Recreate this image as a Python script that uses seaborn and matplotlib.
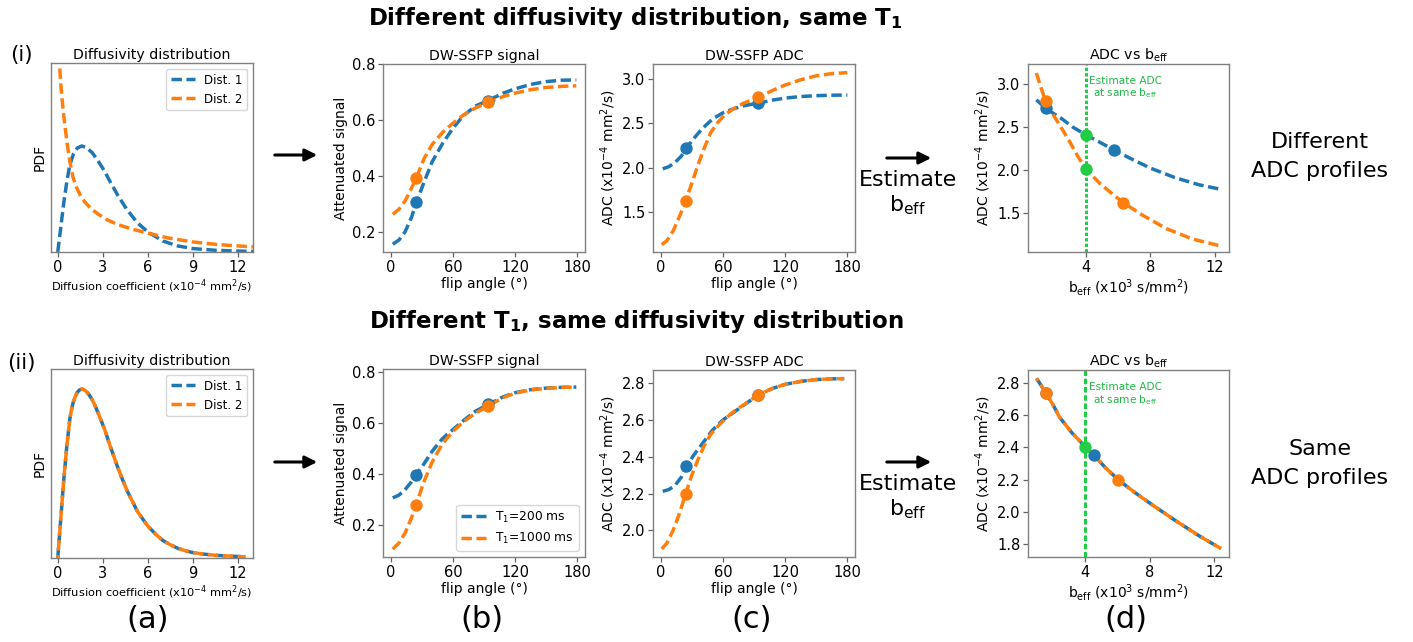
import matplotlib
matplotlib.use("Agg")
import matplotlib.pyplot as plt
import seaborn as sns
from matplotlib.patches import FancyArrowPatch

# ---------------- data ----------------
# Row (i) panel (a): diffusivity distributions
dc_dist1_i = [0, 0.2, 0.4, 0.6, 0.8, 1.05, 1.3, 1.6, 1.9, 2.3, 2.7, 3.1, 3.5, 4.0, 4.6, 5.3, 6.0, 7.0, 8.0, 9.0, 10.5, 12.0, 13.0]
pdf_dist1_i = [0, 0.13, 0.26, 0.37, 0.46, 0.52, 0.55, 0.561, 0.553, 0.525, 0.48, 0.43, 0.37, 0.30, 0.225, 0.155, 0.106, 0.058, 0.032, 0.018, 0.009, 0.005, 0.003]
dc_dist2_i = [0.1, 0.15, 0.22, 0.3, 0.4, 0.52, 0.65, 0.8, 1.0, 1.2, 1.5, 1.8, 2.2, 2.7, 3.3, 4.0, 5.0, 6.0, 7.3, 9.0, 10.7, 13.0]
pdf_dist2_i = [1.05, 0.95, 0.87, 0.80, 0.72, 0.64, 0.56, 0.48, 0.40, 0.35, 0.30, 0.265, 0.23, 0.20, 0.17, 0.145, 0.12, 0.10, 0.075, 0.053, 0.039, 0.027]

# Row (ii) panel (a): identical distributions
dc_ii = [0, 0.1, 0.2, 0.3, 0.4, 0.5, 0.6, 0.7, 0.8, 0.92, 1.05, 1.18, 1.3, 1.45, 1.6, 1.75, 1.9, 2.1, 2.3, 2.5, 2.7, 2.9, 3.1, 3.3, 3.5, 3.75, 4.0, 4.3, 4.6, 5.0, 5.3, 5.65, 6.0, 6.5, 7.0, 7.5, 8.0, 8.5, 9.0, 9.7, 10.5, 11.2, 12.0, 12.5]
pdf_ii = [0, 0.065, 0.13, 0.195, 0.26, 0.315, 0.37, 0.415, 0.46, 0.495, 0.52, 0.538, 0.55, 0.558, 0.561, 0.559, 0.553, 0.541, 0.525, 0.504, 0.48, 0.455, 0.43, 0.40, 0.37, 0.335, 0.30, 0.262, 0.225, 0.185, 0.155, 0.13, 0.106, 0.08, 0.058, 0.044, 0.032, 0.024, 0.018, 0.013, 0.009, 0.007, 0.005, 0.004]

# flip angles (degrees)
fa = [2, 8, 14, 20, 25, 32, 40, 50, 60, 70, 82, 94, 108, 120, 135, 150, 165, 179]
fa_adc_i_orange = [1, 6, 12, 18, 24, 30, 36, 42, 48, 55, 62, 70, 80, 94, 108, 120, 135, 150, 165, 180]
fa_adc_i_blue = [2, 8, 14, 20, 25, 32, 40, 50, 60, 70, 80, 94, 108, 120, 135, 150, 165, 180]
fa_adc_ii_orange = [1, 6, 12, 18, 24, 30, 36, 42, 48, 55, 62, 70, 82, 94, 108, 120, 135, 150, 165, 177]
fa_adc_ii_blue = [2, 8, 14, 20, 25, 32, 40, 50, 60, 70, 82, 94, 108, 120, 135, 150, 165, 177]

# Row (i) panel (b): DW-SSFP signal
sig_i_dist1 = [0.155, 0.170, 0.200, 0.250, 0.307, 0.375, 0.450, 0.515, 0.570, 0.615, 0.650, 0.669, 0.695, 0.711, 0.727, 0.737, 0.742, 0.743]
sig_i_dist2 = [0.262, 0.280, 0.310, 0.355, 0.395, 0.460, 0.512, 0.555, 0.588, 0.617, 0.643, 0.663, 0.683, 0.696, 0.708, 0.716, 0.720, 0.722]
# Row (i) panel (c): DW-SSFP ADC (x1e-4 mm2/s)
adc_i_dist1 = [1.985, 2.01, 2.06, 2.13, 2.227, 2.33, 2.44, 2.55, 2.62, 2.665, 2.70, 2.73, 2.765, 2.787, 2.805, 2.815, 2.82, 2.822]
adc_i_dist2 = [1.125, 1.17, 1.28, 1.44, 1.62, 1.82, 2.03, 2.22, 2.39, 2.51, 2.60, 2.665, 2.73, 2.795, 2.875, 2.935, 2.995, 3.04, 3.065, 3.076]
# Row (i) panel (d): ADC vs b_eff (x1e3 s/mm2)
beff_i_dist1 = [0.94, 1.52, 2.0, 2.5, 3.2, 4.0, 4.8, 5.74, 6.9, 8.0, 9.5, 11.0, 12.2]
adcb_i_dist1 = [2.82, 2.722, 2.66, 2.60, 2.50, 2.41, 2.33, 2.232, 2.12, 2.02, 1.91, 1.825, 1.778]
beff_i_dist2 = [0.94, 1.2, 1.52, 1.9, 2.4, 3.0, 3.5, 4.0, 4.87, 5.5, 6.31, 7.5, 9.0, 10.6, 12.2]
adcb_i_dist2 = [3.133, 2.98, 2.80, 2.67, 2.52, 2.33, 2.16, 2.01, 1.84, 1.74, 1.617, 1.47, 1.31, 1.19, 1.115]

# Row (ii) panel (b)
sig_ii_t200 = [0.307, 0.318, 0.340, 0.370, 0.400, 0.440, 0.490, 0.540, 0.575, 0.610, 0.648, 0.673, 0.703, 0.720, 0.732, 0.738, 0.741, 0.742]
sig_ii_t1000 = [0.106, 0.130, 0.170, 0.228, 0.285, 0.370, 0.448, 0.520, 0.568, 0.605, 0.640, 0.668, 0.700, 0.718, 0.731, 0.737, 0.741, 0.742]
# Row (ii) panel (c)
adc_ii_t200 = [2.212, 2.222, 2.245, 2.29, 2.348, 2.41, 2.47, 2.545, 2.60, 2.64, 2.688, 2.737, 2.772, 2.794, 2.81, 2.82, 2.824, 2.825]
adc_ii_t1000 = [1.899, 1.93, 2.00, 2.09, 2.197, 2.30, 2.385, 2.46, 2.52, 2.565, 2.605, 2.645, 2.69, 2.737, 2.772, 2.794, 2.81, 2.82, 2.824, 2.825]
# Row (ii) panel (d)
beff_ii = [1.0, 1.57, 2.0, 2.43, 3.2, 4.0, 4.54, 5.3, 6.06, 7.0, 8.0, 9.65, 11.1, 12.4]
adcb_ii = [2.831, 2.742, 2.67, 2.588, 2.49, 2.406, 2.352, 2.27, 2.198, 2.125, 2.053, 1.94, 1.846, 1.77]

# acquired points (dots)
pt_fa_i = [24.5, 94]
pt_fa_adc = [24.5, 93.6]
pt_fa_ii = [24.2, 94]
pts_i_sig_d1 = [0.307, 0.668]
pts_i_sig_d2 = [0.393, 0.663]
pts_i_adc_d1 = [2.227, 2.73]
pts_i_adc_d2 = [1.621, 2.795]
pts_i_beff_d1 = [1.52, 5.74]
pts_i_adcb_d1 = [2.722, 2.232]
pts_i_beff_d2 = [1.52, 6.31]
pts_i_adcb_d2 = [2.80, 1.617]
pts_i_green = [2.41, 2.008]

pts_ii_sig_t200 = [0.397, 0.674]
pts_ii_sig_t1000 = [0.281, 0.668]
pts_ii_adc_t200 = [2.348, 2.737]
pts_ii_adc_t1000 = [2.197, 2.737]
pts_ii_beff_t200 = [1.57, 4.54]
pts_ii_adcb_t200 = [2.742, 2.352]
pts_ii_beff_t1000 = [1.57, 6.06]
pts_ii_adcb_t1000 = [2.742, 2.198]
pts_ii_green = [2.406]

beff_same = 4.0
panel_letters = ["(a)", "(b)", "(c)", "(d)"]

# ---------------- style ----------------
sns.set_theme(style="ticks", rc={
    "axes.edgecolor": "#808080", "axes.linewidth": 1.0,
    "xtick.major.size": 3.5, "ytick.major.size": 3.5,
    "xtick.major.width": 0.9, "ytick.major.width": 0.9,
    "xtick.color": "#606060", "ytick.color": "#606060",
    "xtick.labelcolor": "black", "ytick.labelcolor": "black",
    "text.color": "black", "axes.labelcolor": "black",
    "mathtext.fontset": "dejavusans",
})
plt.rcParams["font.family"] = ["DejaVu Sans"]

BLUE, ORANGE = "#1f77b4", "#ff7f0e"
GREEN, GREEN_TXT = "#22cc44", "#22b845"
W, H = 1413, 642
TICK, LAB, TIT = 10.5, 10, 10.2
LW = 2.5
DASH = (0, (3.0, 1.3))
OFFSET = (2.15, (3.0, 1.3))


def rect(l, r, t, b):
    return [l / W, 1 - b / H, (r - l) / W, (b - t) / H]


fig = plt.figure(figsize=(W / 100, H / 100), dpi=100)


def line(ax, x, y, color, label=None, ls=DASH):
    kw = dict(x=x, y=y, color=color, lw=LW, linestyle=ls, ax=ax,
              sort=False, estimator=None)
    if label is not None:
        kw["label"] = label
    sns.lineplot(**kw)


def dots(ax, x, y, color, z=3):
    sns.scatterplot(x=x, y=y, color=color, s=80, linewidth=0, ax=ax, zorder=z, legend=False)


def style(ax, title, xlabel, ylabel, xlim, ylim, xticks, yticks, xl_size=LAB):
    ax.set_title(title, fontsize=TIT, pad=3)
    ax.set_xlabel(xlabel, fontsize=xl_size, labelpad=2)
    ax.set_ylabel(ylabel, fontsize=LAB, labelpad=3)
    ax.set_xlim(*xlim)
    ax.set_ylim(*ylim)
    ax.set_xticks(xticks)
    ax.set_yticks(yticks)
    ax.tick_params(labelsize=TICK, pad=2)


def legend(ax, **kw):
    leg = ax.legend(frameon=True, **kw)
    for ln in leg.get_lines():
        ln.set_linestyle(DASH)
    return leg


dc_label = r"Diffusion coefficient (x10$^{-4}$ mm$^2$/s)"
adc_label = r"ADC (x10$^{-4}$ mm$^2$/s)"
fa_label = "flip angle (°)"
beff_label = r"b$_{\mathrm{eff}}$ (x10$^3$ s/mm$^2$)"

# ---------------- row (i) ----------------
ax = fig.add_axes(rect(51, 253, 63, 252))
line(ax, dc_dist1_i, pdf_dist1_i, BLUE, "Dist. 1")
line(ax, dc_dist2_i, pdf_dist2_i, ORANGE, "Dist. 2")
style(ax, "Diffusivity distribution", dc_label, "PDF", (-0.45, 13.0), (0, 1.0), [0, 3, 6, 9, 12], [], xl_size=8.2)
legend(ax, loc="upper right", fontsize=8.5)

ax = fig.add_axes(rect(383, 585, 64, 252))
line(ax, fa, sig_i_dist1, BLUE)
line(ax, fa, sig_i_dist2, ORANGE)
dots(ax, pt_fa_i, pts_i_sig_d1, BLUE)
dots(ax, pt_fa_i, pts_i_sig_d2, ORANGE, 4)
style(ax, "DW-SSFP signal", fa_label, "Attenuated signal", (-7.4, 187.4), (0.127, 0.80), [0, 60, 120, 180], [0.2, 0.4, 0.6, 0.8])

ax = fig.add_axes(rect(653, 855, 64, 252))
line(ax, fa_adc_i_blue, adc_i_dist1, BLUE)
line(ax, fa_adc_i_orange, adc_i_dist2, ORANGE)
dots(ax, pt_fa_adc, pts_i_adc_d1, BLUE)
dots(ax, pt_fa_adc, pts_i_adc_d2, ORANGE, 4)
style(ax, "DW-SSFP ADC", fa_label, adc_label, (-7.4, 187.4), (1.042, 3.174), [0, 60, 120, 180], [1.5, 2.0, 2.5, 3.0])

ax = fig.add_axes(rect(1028, 1229, 64, 252))
line(ax, beff_i_dist1, adcb_i_dist1, BLUE)
line(ax, beff_i_dist2, adcb_i_dist2, ORANGE)
ax.axvline(beff_same, color=GREEN, lw=2.2, linestyle=(0, (1.1, 0.7)), zorder=2.5)
dots(ax, pts_i_beff_d1, pts_i_adcb_d1, BLUE)
dots(ax, pts_i_beff_d2, pts_i_adcb_d2, ORANGE, 4)
dots(ax, [beff_same, beff_same], pts_i_green, GREEN, 5)
ax.text(6.46, 3.035, "Estimate ADC", color=GREEN_TXT, fontsize=7.6, ha="center", va="center")
ax.text(6.46, 2.898, r"at same b$_{\mathrm{eff}}$", color=GREEN_TXT, fontsize=7.6, ha="center", va="center")
style(ax, r"ADC vs b$_{\mathrm{eff}}$", beff_label, adc_label, (0.425, 12.86), (1.038, 3.239), [4, 8, 12], [1.5, 2.0, 2.5, 3.0])

# ---------------- row (ii) ----------------
ax = fig.add_axes(rect(51, 253, 369, 558))
line(ax, dc_ii, pdf_ii, BLUE, "Dist. 1")
line(ax, dc_ii, pdf_ii, ORANGE, "Dist. 2", ls=OFFSET)
style(ax, "Diffusivity distribution", dc_label, "PDF", (-0.45, 13.0), (0, 0.6275), [0, 3, 6, 9, 12], [], xl_size=8.2)
legend(ax, loc="upper right", fontsize=8.5)

ax = fig.add_axes(rect(383, 585, 369, 557))
line(ax, fa, sig_ii_t200, BLUE, r"T$_1$=200 ms")
line(ax, fa, sig_ii_t1000, ORANGE, r"T$_1$=1000 ms")
dots(ax, pt_fa_ii, pts_ii_sig_t200, BLUE)
dots(ax, pt_fa_ii, pts_ii_sig_t1000, ORANGE, 4)
style(ax, "DW-SSFP signal", fa_label, "Attenuated signal", (-7.4, 187.4), (0.075, 0.813), [0, 60, 120, 180], [0.2, 0.4, 0.6, 0.8])
legend(ax, loc="lower right", fontsize=8.8)

ax = fig.add_axes(rect(653, 855, 370, 557))
line(ax, fa_adc_ii_blue, adc_ii_t200, BLUE)
line(ax, fa_adc_ii_orange, adc_ii_t1000, ORANGE)
dots(ax, pt_fa_adc, pts_ii_adc_t200, BLUE)
dots(ax, pt_fa_adc, pts_ii_adc_t1000, ORANGE, 4)
style(ax, "DW-SSFP ADC", fa_label, adc_label, (-7.4, 187.4), (1.855, 2.872), [0, 60, 120, 180], [2.0, 2.2, 2.4, 2.6, 2.8])

ax = fig.add_axes(rect(1028, 1229, 370, 557))
line(ax, beff_ii, adcb_ii, BLUE)
line(ax, beff_ii, adcb_ii, ORANGE, ls=OFFSET)
ax.axvline(beff_same, color=GREEN, lw=2.2, linestyle=(0, (1.8, 0.9)), zorder=2.5)
dots(ax, pts_ii_beff_t200, pts_ii_adcb_t200, BLUE)
dots(ax, pts_ii_beff_t1000, pts_ii_adcb_t1000, ORANGE, 4)
dots(ax, [beff_same], pts_ii_green, GREEN, 5)
ax.text(6.49, 2.779, "Estimate ADC", color=GREEN_TXT, fontsize=7.6, ha="center", va="center")
ax.text(6.49, 2.696, r"at same b$_{\mathrm{eff}}$", color=GREEN_TXT, fontsize=7.6, ha="center", va="center")
style(ax, r"ADC vs b$_{\mathrm{eff}}$", beff_label, adc_label, (0.474, 12.9), (1.717, 2.883), [4, 8, 12], [1.8, 2.0, 2.2, 2.4, 2.6, 2.8])

# ---------------- figure-level annotations ----------------
def ftext(x, y, s, **kw):
    fig.text(x / W, 1 - y / H, s, ha="center", va="center", **kw)


def farrow(x0, x1, y):
    fig.add_artist(FancyArrowPatch((x0 / W, 1 - y / H), (x1 / W, 1 - y / H),
                                   transform=fig.transFigure, arrowstyle="-|>",
                                   mutation_scale=18, lw=2.2, color="black"))


ftext(635, 18, r"Different diffusivity distribution, same T$_\mathbf{1}$", fontsize=16.5, fontweight="bold")
ftext(636, 322, r"Different T$_\mathbf{1}$, same diffusivity distribution", fontsize=16.5, fontweight="bold")
ftext(21, 55, "(i)", fontsize=15.5)
ftext(21, 363, "(ii)", fontsize=15.5)

for yy in (155, 462):
    farrow(272, 320, yy)
for yy, yt in ((158, 180), (462, 484)):
    farrow(884, 934, yy)
    ftext(908, yt, "Estimate", fontsize=16)
    ftext(908, yt + 25, r"b$_{\mathrm{eff}}$", fontsize=16)

ftext(1320, 142, "Different", fontsize=16)
ftext(1320, 171, "ADC profiles", fontsize=16)
ftext(1320, 449, "Same", fontsize=16)
ftext(1320, 478, "ADC profiles", fontsize=16)

for s, xx in zip(panel_letters, (148, 482, 752, 1126)):
    ftext(xx, 620, s, fontsize=22)

fig.savefig("out.png", dpi=100)
